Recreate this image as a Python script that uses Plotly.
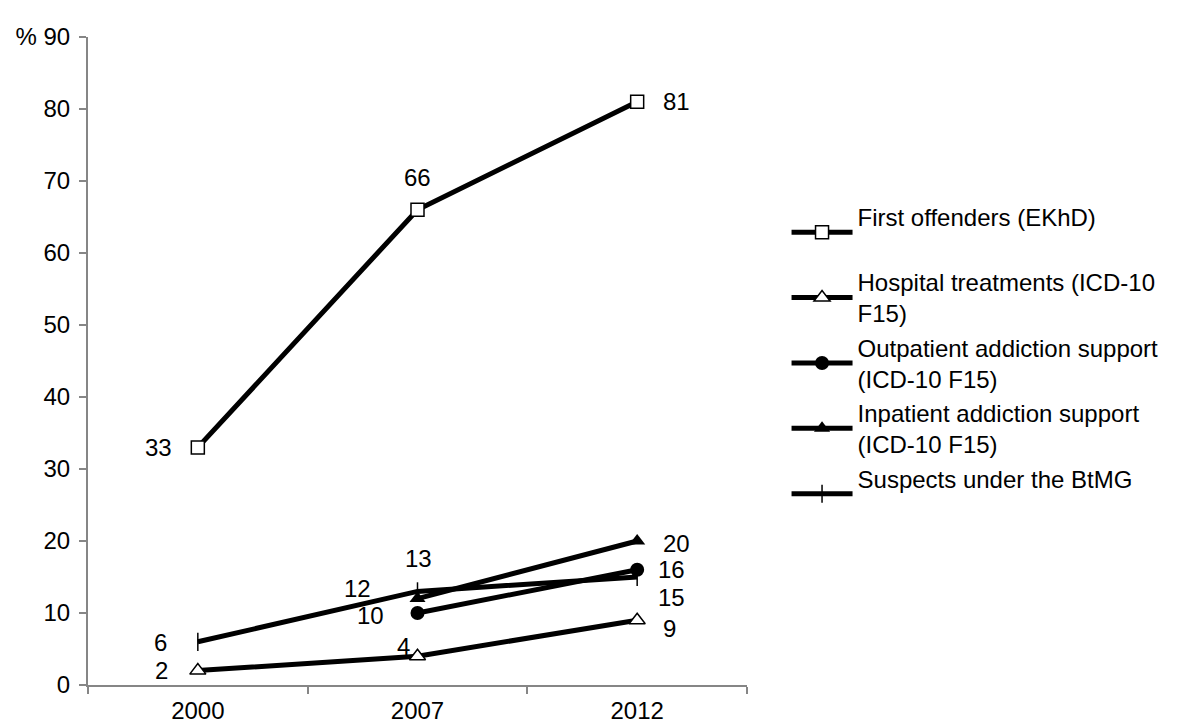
import plotly.graph_objects as go

years = ["2000", "2007", "2012"]
first_offenders = [33, 66, 81]
hospital = [2, 4, 9]
outpatient = [None, 10, 16]
inpatient = [None, 12, 20]
suspects = [6, 13, 15]

y_ticks = [0, 10, 20, 30, 40, 50, 60, 70, 80, 90]
y_ticktext = ["0", "10", "20", "30", "40", "50", "60", "70", "80", "% 90"]

FONT = "Liberation Sans, Arial, sans-serif"
FS = 24

# label placement styles per point: (xanchor, xshift, yshift)
series = [
    dict(name="First offenders (EKhD)<br> ", y=first_offenders,
         marker=dict(symbol="square", size=13, color="white", line=dict(color="black", width=1.5)),
         lab=[("right", -24, 0), ("center", 0, 32), ("left", 24, 0)]),
    dict(name="Hospital treatments (ICD-10<br>F15)", y=hospital,
         marker=dict(symbol="triangle-up", size=14, color="white", line=dict(color="black", width=1.5)),
         lab=[("right", -28, 0), ("center", -14, 10), ("left", 24, -8)]),
    dict(name="Outpatient addiction support<br>(ICD-10 F15)", y=outpatient,
         marker=dict(symbol="circle", size=14, color="black", line=dict(color="black", width=0)),
         lab=[None, ("right", -32, -2), ("left", 19, 0)]),
    dict(name="Inpatient addiction support<br>(ICD-10 F15)", y=inpatient,
         marker=dict(symbol="triangle-up", size=14, color="black", line=dict(color="black", width=0)),
         lab=[None, ("right", -45, 10), ("left", 24, -2)]),
    dict(name="Suspects under the BtMG<br> ", y=suspects,
         marker=dict(symbol="line-ns", size=13, color="black", line=dict(color="black", width=1.5)),
         lab=[("right", -29, -1), ("center", 1, 33), ("left", 19, -20)]),
]

fig = go.Figure()
annotations = []
for s in series:
    fig.add_trace(go.Scatter(
        x=years, y=s["y"], name=s["name"],
        mode="lines+markers",
        line=dict(color="black", width=5),
        marker=s["marker"],
        cliponaxis=False,
        connectgaps=False,
    ))
    for idx, (yv, lab) in enumerate(zip(s["y"], s["lab"])):
        if yv is None or lab is None:
            continue
        xa, xs, ys = lab
        annotations.append(dict(
            x=idx, y=yv, xref="x", yref="y", text=str(yv), showarrow=False,
            xanchor=xa, yanchor="middle", xshift=xs, yshift=ys,
            font=dict(family=FONT, size=FS, color="black"),
        ))

fig.update_layout(
    width=1184, height=726,
    margin=dict(l=88, r=437, t=37, b=41),
    paper_bgcolor="white", plot_bgcolor="white",
    font=dict(family=FONT, size=FS, color="black"),
    showlegend=True,
    annotations=annotations,
    legend=dict(x=1.06, y=0.497, xanchor="left", yanchor="middle",
                font=dict(family=FONT, size=FS, color="black"),
                itemwidth=61, tracegroupgap=0, valign="middle",
                bgcolor="rgba(0,0,0,0)"),
    xaxis=dict(type="category", categoryorder="array", categoryarray=years,
               range=[-0.5, 2.5], showgrid=False, zeroline=False, automargin=False,
               showline=True, linecolor="#868686", linewidth=2,
               ticks="outside", tickson="boundaries", ticklen=7, tickcolor="#868686", tickwidth=2,
               ticklabelstandoff=3,
               tickfont=dict(family=FONT, size=FS, color="black")),
    yaxis=dict(range=[0, 90], tickvals=y_ticks, ticktext=y_ticktext, automargin=False,
               showgrid=False, zeroline=False,
               showline=True, linecolor="#868686", linewidth=2,
               ticks="outside", ticklen=7, tickcolor="#868686", tickwidth=2,
               ticklabelstandoff=4,
               tickfont=dict(family=FONT, size=FS, color="black")),
)

fig.write_html("out.html", config={"displayModeBar": False},
               post_script="document.body.style.margin='0';document.body.style.overflow='hidden';")
